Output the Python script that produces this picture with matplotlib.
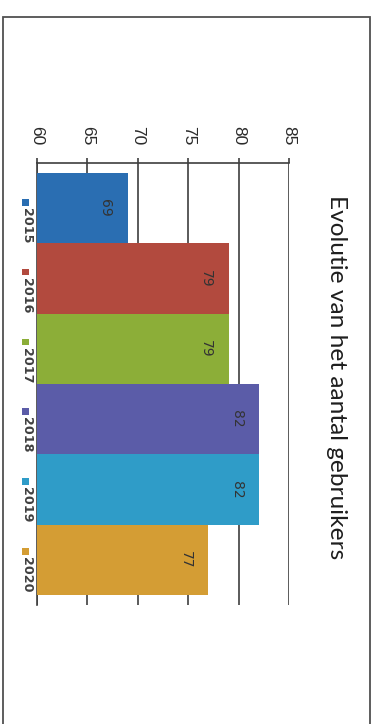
import matplotlib
matplotlib.use('Agg')
import matplotlib.pyplot as plt
from matplotlib.patches import Rectangle

# Users per year
years = ['2015', '2016', '2017', '2018', '2019', '2020']
users = [69, 79, 79, 82, 82, 77]
colors = ['#2a6eb2', '#b24a3e', '#8cae38', '#5b5ca8', '#2f9cc8', '#d49d34']

value_ticks = [60, 65, 70, 75, 80, 85]
title = 'Evolutie van het aantal gebruikers'

W, H = 374, 724
DPI = 100
LINE = '#3e3e3e'


def px_x(x):
    return x / W


def px_y(y):
    return 1 - y / H


def main():
    fig = plt.figure(figsize=(W / DPI, H / DPI), dpi=DPI)
    fig.patch.set_facecolor('white')

    # chart is laid out turned a quarter clockwise: values run left->right,
    # years top->bottom, all text reads downwards
    ax = fig.add_axes([px_x(37), px_y(605), px_x(289) - px_x(37), px_y(163) - px_y(605)])
    pos = list(range(len(years)))
    ax.barh(pos, [u - value_ticks[0] for u in users], left=value_ticks[0],
            height=1.0, color=colors, zorder=3)

    pad = 0.142
    ax.set_xlim(value_ticks[0], value_ticks[-1])
    ax.set_ylim(len(years) - 0.5 + pad, -0.5 - pad)

    ax.set_xticks(value_ticks)
    ax.xaxis.tick_top()
    ax.tick_params(axis='x', direction='out', length=3.8, width=1.2, color=LINE,
                   pad=9, labelsize=12.5, labelcolor='#2b2b2b', labelrotation=-90)
    for lbl in ax.get_xticklabels():
        lbl.set_fontfamily('Liberation Sans')
    ax.set_yticks([])
    ax.grid(axis='x', color=LINE, linewidth=1.2, zorder=1)

    for side in ['right', 'bottom']:
        ax.spines[side].set_visible(False)
    for side in ['top', 'left']:
        ax.spines[side].set_color(LINE)
        ax.spines[side].set_linewidth(1.2)

    # value labels inside the bar ends
    for i, u in enumerate(users):
        ax.annotate(str(u), xy=(u, i), xytext=(-16, 0), textcoords='offset points',
                    ha='center', va='center', rotation=-90, fontsize=10,
                    color='#333333', zorder=4)

    # title on the right edge
    fig.text(px_x(336), px_y(377), title, rotation=-90, ha='center', va='center',
             fontsize=17.6, family='Lato', color='#1e1e1e')

    # legend down the left edge
    for i, (yr, c) in enumerate(zip(years, colors)):
        y0 = 199 + 69.8 * i
        fig.add_artist(Rectangle((px_x(22), px_y(y0 + 6.5)), 6.5 / W, 6.5 / H,
                                 transform=fig.transFigure, color=c, lw=0))
        fig.text(px_x(26), px_y(y0 + 9), yr, rotation=-90, ha='center', va='top',
                 fontsize=9.2, fontweight='bold', color='#404040')

    # outer frame
    fig.add_artist(Rectangle((px_x(3), -0.01), px_x(370) - px_x(3), px_y(17) + 0.01,
                             transform=fig.transFigure, fill=False,
                             edgecolor='#505050', lw=1.3))

    fig.savefig('out.png', dpi=DPI)
    plt.close(fig)


if __name__ == '__main__':
    main()
